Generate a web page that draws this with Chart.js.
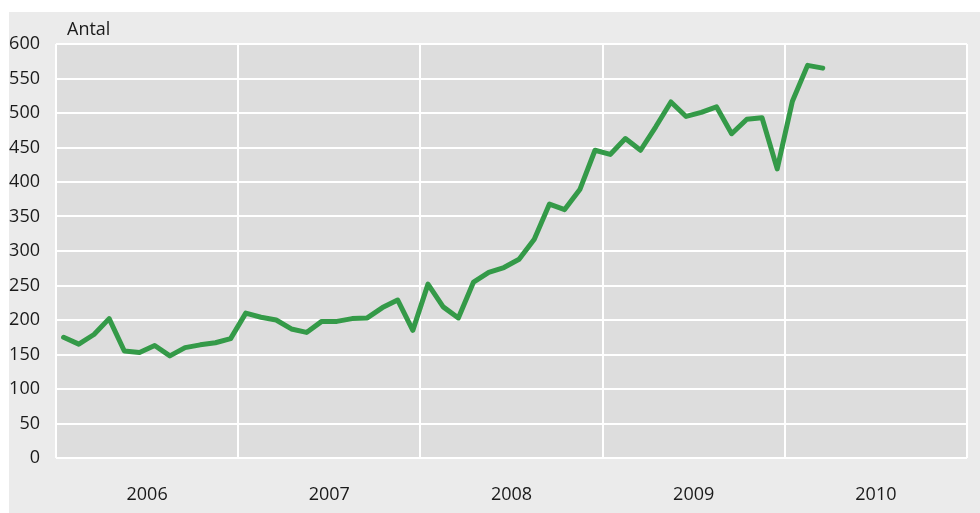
<!DOCTYPE html>
<html>
<head>
<meta charset="utf-8">
<script src="https://cdn.jsdelivr.net/npm/chart.js@4/dist/chart.umd.min.js"></script>
<style>
  body { margin: 0; background: #ffffff; }
  #panel { position: absolute; left: 9px; top: 12px; width: 971px; height: 501px; background: #ebebeb; }
</style>
</head>
<body>
<div id="panel"><canvas id="chart" width="971" height="501"></canvas></div>
<script>
// monthly values, Jan 2006 - Mar 2010
const years = ['2006', '2007', '2008', '2009', '2010'];
const antal2006 = [175, 165, 179, 202, 155, 153, 163, 148, 160, 164, 167, 173];
const antal2007 = [210, 204, 200, 187, 182, 198, 198, 202, 203, 218, 229, 185];
const antal2008 = [252, 219, 203, 255, 269, 276, 288, 317, 368, 360, 389, 446];
const antal2009 = [440, 463, 446, 480, 516, 495, 501, 509, 470, 491, 493, 419];
const antal2010 = [517, 569, 565];
const yTicks = [0, 50, 100, 150, 200, 250, 300, 350, 400, 450, 500, 550, 600];

const antal = [...antal2006, ...antal2007, ...antal2008, ...antal2009, ...antal2010];
const FONT = { family: 'Open Sans', size: 18 };
const TEXT = '#1a1a1a';

// plot background + "Antal" label
const plotBg = {
  id: 'plotBg',
  beforeDraw(chart) {
    const { ctx, chartArea: a } = chart;
    ctx.save();
    ctx.fillStyle = '#dddddd';
    ctx.fillRect(a.left, a.top, a.right - a.left, a.bottom - a.top);
    ctx.restore();
  },
  afterDraw(chart) {
    const { ctx, chartArea: a } = chart;
    ctx.save();
    ctx.fillStyle = TEXT;
    ctx.font = '18px "Open Sans"';
    ctx.textBaseline = 'middle';
    ctx.fillText('Antal', a.left + 11, a.top - 14);
    ctx.restore();
  }
};

new Chart(document.getElementById('chart'), {
  type: 'line',
  data: {
    datasets: [{
      data: antal.map((v, i) => ({ x: i + 0.5, y: v })),
      borderColor: '#349a48',
      borderWidth: 5,
      borderJoinStyle: 'round',
      borderCapStyle: 'round',
      pointRadius: 0,
      tension: 0,
      fill: false
    }]
  },
  options: {
    responsive: false,
    animation: false,
    layout: { padding: { top: 32, right: 13, left: 0, bottom: 0 } },
    plugins: { legend: { display: false }, tooltip: { enabled: false } },
    scales: {
      x: {
        type: 'linear',
        min: 0,
        max: years.length * 12,
        afterBuildTicks: (scale) => {
          scale.ticks = [];
          for (let v = 0; v <= years.length * 12; v += 6) scale.ticks.push({ value: v });
        },
        afterFit: (scale) => {
          scale.height = 55;
          scale.paddingLeft = 0;
          scale.paddingRight = 0;
        },
        border: { display: false },
        grid: {
          color: (c) => (c.tick && c.tick.value % 12 === 0 ? '#ffffff' : 'rgba(0,0,0,0)'),
          lineWidth: 2,
          drawTicks: false
        },
        ticks: {
          autoSkip: false,
          maxRotation: 0,
          padding: 26,
          color: TEXT,
          font: FONT,
          callback: (v) => (v % 12 === 6 ? years[(v - 6) / 12] : '')
        }
      },
      y: {
        min: 0,
        max: 600,
        afterBuildTicks: (scale) => { scale.ticks = yTicks.map(v => ({ value: v })); },
        afterFit: (scale) => { scale.width = 47; },
        border: { display: false },
        grid: { color: '#ffffff', lineWidth: 2, drawTicks: false },
        ticks: { padding: 16, color: TEXT, font: FONT }
      }
    }
  },
  plugins: [plotBg]
});
</script>
</body>
</html>
